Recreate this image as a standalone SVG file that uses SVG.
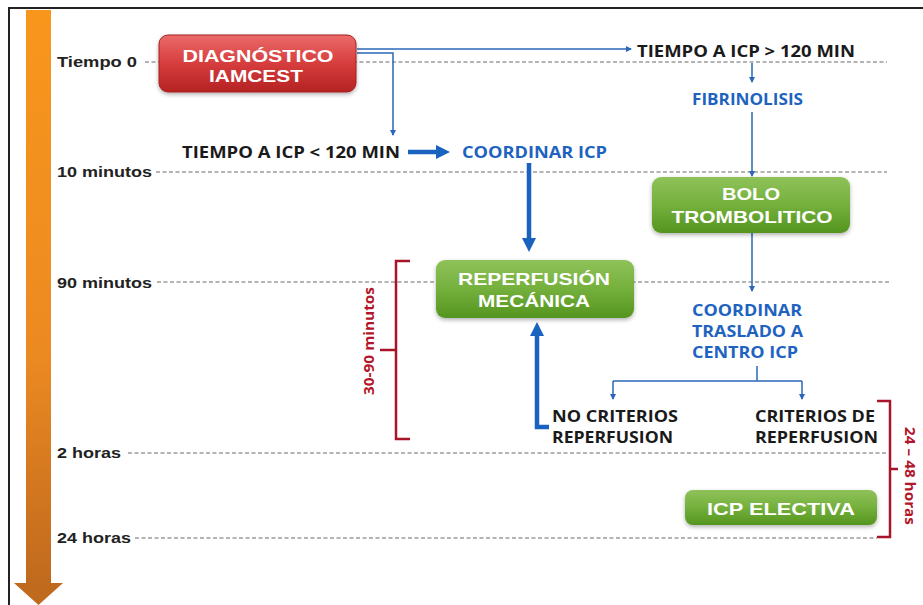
<svg xmlns="http://www.w3.org/2000/svg" width="923" height="605" viewBox="0 0 923 605">
<defs>
<linearGradient id="gOrange" x1="0" y1="0" x2="0" y2="1">
<stop offset="0" stop-color="#f8961c"/>
<stop offset="0.6" stop-color="#ec8a22"/>
<stop offset="1" stop-color="#c06a1e"/>
</linearGradient>
<linearGradient id="gRed" x1="0" y1="0" x2="0" y2="1">
<stop offset="0" stop-color="#ec6a6a"/>
<stop offset="0.5" stop-color="#d63d3d"/>
<stop offset="1" stop-color="#b52222"/>
</linearGradient>
<linearGradient id="gGreen" x1="0" y1="0" x2="0" y2="1">
<stop offset="0" stop-color="#8fc25a"/>
<stop offset="0.5" stop-color="#74b03c"/>
<stop offset="1" stop-color="#54951f"/>
</linearGradient>
<filter id="sh" x="-10%" y="-20%" width="120%" height="150%">
<feDropShadow dx="0" dy="2" stdDeviation="2" flood-color="#000" flood-opacity="0.3"/>
</filter>
<marker id="aThin" viewBox="0 0 6 6" refX="5" refY="3" markerWidth="6" markerHeight="6" markerUnits="userSpaceOnUse" orient="auto">
<path d="M0,0 L6,3 L0,6 z" fill="#2a67b8"/>
</marker>
<marker id="aThick" viewBox="0 0 14 14" refX="2" refY="7" markerWidth="14" markerHeight="14" markerUnits="userSpaceOnUse" orient="auto">
<path d="M0,0 L14,7 L0,14 z" fill="#1a62c0"/>
</marker>
</defs>
<style>
.dash{stroke:#6a6a6a;stroke-width:1.1;stroke-dasharray:4 2.5;fill:none}
.tl{font-family:"Liberation Sans",Arial,sans-serif;font-weight:bold;font-size:15.5px;fill:#222}
.box{font-family:"Liberation Sans",Arial,sans-serif;font-weight:bold;font-size:17px;fill:#ffffff;text-anchor:middle}
.blk{font-family:"Open Sans","Liberation Sans",sans-serif;font-weight:bold;font-size:16.5px;fill:#1a1a1a}
.blu{font-family:"Open Sans","Liberation Sans",sans-serif;font-weight:bold;font-size:16px;fill:#1f63c0}
.red{font-family:"Open Sans","Liberation Sans",sans-serif;font-weight:bold;font-size:15px;fill:#b3162b;text-anchor:middle}
.thin{stroke:#2a67b8;stroke-width:1.5;fill:none}
.thick{stroke:#1a62c0;stroke-width:4.5;fill:none}
.brk{stroke:#a8142a;stroke-width:2.5;fill:none}
</style>
<rect width="923" height="605" fill="#ffffff"/>
<path d="M9,605 V8 H923" fill="none" stroke="#222" stroke-width="2"/>

<g id="timeline">
<rect x="26" y="10" width="25" height="574" fill="url(#gOrange)"/>
<path d="M14,583 L63,583 L38.5,605 z" fill="#c06a1e"/>
<text class="tl" x="57" y="67" textLength="80" lengthAdjust="spacingAndGlyphs">Tiempo 0</text>
<text class="tl" x="57" y="177" textLength="95" lengthAdjust="spacingAndGlyphs">10 minutos</text>
<text class="tl" x="57" y="288" textLength="95" lengthAdjust="spacingAndGlyphs">90 minutos</text>
<text class="tl" x="57" y="458" textLength="64" lengthAdjust="spacingAndGlyphs">2 horas</text>
<text class="tl" x="57" y="543" textLength="74" lengthAdjust="spacingAndGlyphs">24 horas</text>
<line class="dash" x1="145" y1="62" x2="887" y2="62"/>
<line class="dash" x1="156" y1="172" x2="887" y2="172"/>
<line class="dash" x1="157" y1="282" x2="890" y2="282"/>
<line class="dash" x1="128" y1="453" x2="886" y2="453"/>
<line class="dash" x1="135" y1="538" x2="877" y2="538"/>
</g>

<g id="connectors">
<path class="thin" d="M357,49 H631" marker-end="url(#aThin)"/>
<path class="thin" d="M357,53 H393 V135" marker-end="url(#aThin)"/>
<path class="thin" d="M752,63 V82" marker-end="url(#aThin)"/>
<path class="thin" d="M752,112 V176" marker-end="url(#aThin)"/>
<path class="thin" d="M752,233 V291" marker-end="url(#aThin)"/>
<path class="thin" d="M757,366 V381"/>
<path class="thin" d="M613,381 H802"/>
<path class="thin" d="M613,381 V399" marker-end="url(#aThin)"/>
<path class="thin" d="M802,381 V399" marker-end="url(#aThin)"/>
<path class="thick" d="M408,152 H438" marker-end="url(#aThick)"/>
<path class="thick" d="M529,163 V240" marker-end="url(#aThick)"/>
<path class="thick" d="M549,427 H537 V334" marker-end="url(#aThick)"/>
</g>

<g id="diagnostico">
<rect x="159" y="35" width="197" height="57" rx="9" fill="url(#gRed)" stroke="#a52020" stroke-width="1" filter="url(#sh)"/>
<text class="box" x="258" y="62" textLength="151" lengthAdjust="spacingAndGlyphs">DIAGNÓSTICO</text>
<text class="box" x="256" y="82" textLength="94" lengthAdjust="spacingAndGlyphs">IAMCEST</text>
</g>

<g id="tiempo-mayor">
<text class="blk" x="637" y="57" textLength="218" lengthAdjust="spacingAndGlyphs">TIEMPO A ICP &gt; 120 MIN</text>
</g>

<g id="fibrinolisis">
<text class="blu" x="692" y="105" textLength="111" lengthAdjust="spacingAndGlyphs">FIBRINOLISIS</text>
</g>

<g id="tiempo-menor">
<text class="blk" x="182" y="158" textLength="218" lengthAdjust="spacingAndGlyphs">TIEMPO A ICP &lt; 120 MIN</text>
</g>

<g id="coordinar-icp">
<text class="blu" x="462" y="158" textLength="145" lengthAdjust="spacingAndGlyphs">COORDINAR ICP</text>
</g>

<g id="bolo">
<rect x="652" y="177" width="198" height="56" rx="9" fill="url(#gGreen)" filter="url(#sh)"/>
<text class="box" x="751" y="200" textLength="58" lengthAdjust="spacingAndGlyphs">BOLO</text>
<text class="box" x="752" y="223" textLength="161" lengthAdjust="spacingAndGlyphs">TROMBOLITICO</text>
</g>

<g id="reperfusion">
<rect x="436" y="260" width="198" height="58" rx="9" fill="url(#gGreen)" filter="url(#sh)"/>
<text class="box" x="534" y="285" textLength="152" lengthAdjust="spacingAndGlyphs">REPERFUSIÓN</text>
<text class="box" x="534" y="307" textLength="112" lengthAdjust="spacingAndGlyphs">MECÁNICA</text>
</g>

<g id="coordinar-traslado">
<text class="blu" x="692" y="316" textLength="110" lengthAdjust="spacingAndGlyphs">COORDINAR</text>
<text class="blu" x="692" y="337" textLength="111" lengthAdjust="spacingAndGlyphs">TRASLADO A</text>
<text class="blu" x="692" y="358" textLength="106" lengthAdjust="spacingAndGlyphs">CENTRO ICP</text>
</g>

<g id="no-criterios">
<text class="blk" x="552" y="422" textLength="126" lengthAdjust="spacingAndGlyphs">NO CRITERIOS</text>
<text class="blk" x="552" y="443" textLength="121" lengthAdjust="spacingAndGlyphs">REPERFUSION</text>
</g>

<g id="criterios">
<text class="blk" x="755" y="422" textLength="120" lengthAdjust="spacingAndGlyphs">CRITERIOS DE</text>
<text class="blk" x="755" y="443" textLength="123" lengthAdjust="spacingAndGlyphs">REPERFUSION</text>
</g>

<g id="icp-electiva">
<rect x="685" y="490" width="192" height="35" rx="8" fill="url(#gGreen)" filter="url(#sh)"/>
<text class="box" x="781" y="515" textLength="148" lengthAdjust="spacingAndGlyphs">ICP ELECTIVA</text>
</g>

<g id="bracket-30-90">
<path class="brk" d="M410,261 H396 V439 H410 M396,350 H380"/>
<text class="red" transform="translate(374,341) rotate(-90)" textLength="108" lengthAdjust="spacingAndGlyphs">30-90 minutos</text>
</g>

<g id="bracket-24-48">
<path class="brk" d="M877,401 H890 V537 H877 M890,469 H898"/>
<text class="red" transform="translate(905,476) rotate(90)" textLength="98" lengthAdjust="spacingAndGlyphs">24 – 48 horas</text>
</g>
</svg>
